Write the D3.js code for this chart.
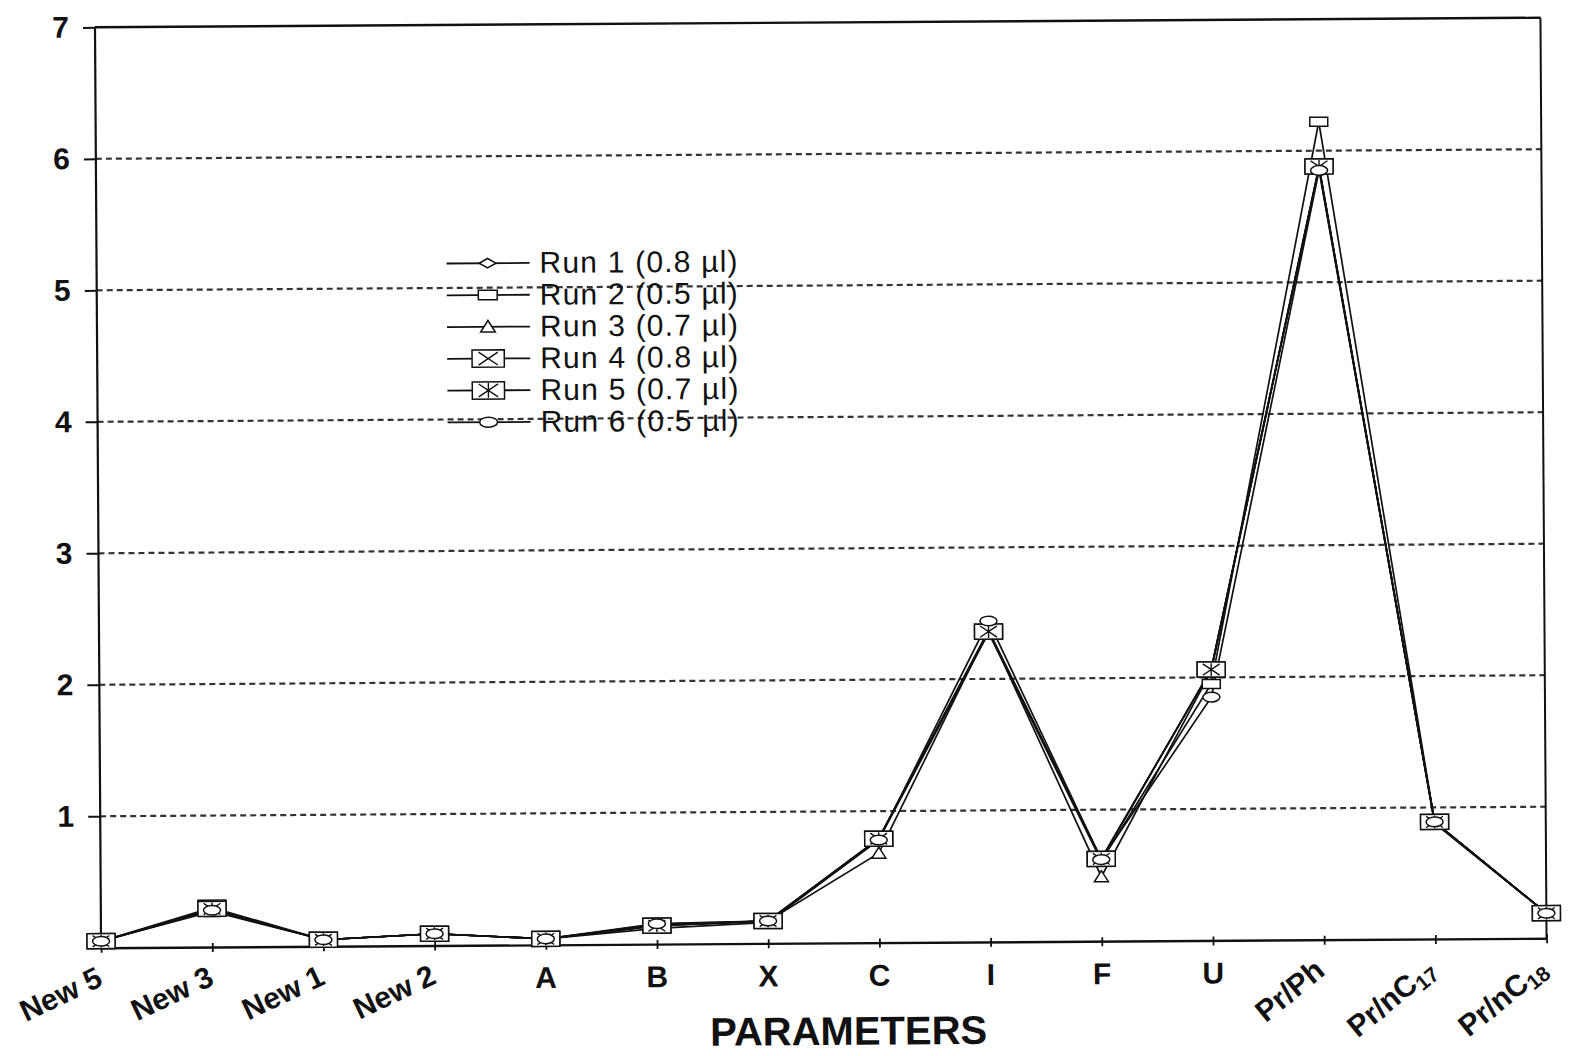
<!DOCTYPE html>
<html>
<head>
<meta charset="utf-8">
<script src="https://cdn.jsdelivr.net/npm/d3@7"></script>
<style>
  body { margin: 0; background: #fff; }
  svg { display: block; }
  text { font-family: "Liberation Sans", Arial, sans-serif; fill: #111; }
</style>
</head>
<body>
<svg id="chart" width="1572" height="1056"></svg>
<script>
// Parameters along the x axis
const categories = ["New 5", "New 3", "New 1", "New 2", "A", "B", "X", "C", "I", "F", "U", "Pr/Ph", "Pr/nC17", "Pr/nC18"];

// Values per run, one per parameter
const run1 = [0.05, 0.28, 0.05, 0.09, 0.045, 0.15, 0.17, 0.79, 2.37, 0.62, 2.06, 5.87, 0.89, 0.19];
const run2 = [0.05, 0.28, 0.05, 0.09, 0.045, 0.12, 0.16, 0.78, 2.35, 0.61, 1.95, 6.22, 0.89, 0.19];
const run3 = [0.05, 0.27, 0.05, 0.09, 0.045, 0.14, 0.17, 0.68, 2.37, 0.49, 2.05, 5.87, 0.88, 0.19];
const run4 = [0.05, 0.30, 0.05, 0.09, 0.045, 0.14, 0.17, 0.79, 2.36, 0.625, 2.06, 5.88, 0.89, 0.19];
const run5 = [0.05, 0.29, 0.05, 0.09, 0.045, 0.14, 0.17, 0.79, 2.36, 0.625, 2.06, 5.88, 0.89, 0.19];
const run6 = [0.05, 0.28, 0.05, 0.09, 0.045, 0.155, 0.17, 0.78, 2.44, 0.62, 1.85, 5.85, 0.89, 0.19];

const seriesNames = ["Run 1 (0.8 µl)", "Run 2 (0.5 µl)", "Run 3 (0.7 µl)", "Run 4 (0.8 µl)", "Run 5 (0.7 µl)", "Run 6 (0.5 µl)"];
const markerTypes = ["diamond", "rect", "triangle", "boxX", "boxStar", "ellipse"];
const yTicks = [1, 2, 3, 4, 5, 6, 7];
const gridValues = [1, 2, 3, 4, 5, 6];
const xTitle = "PARAMETERS";

const seriesValues = [run1, run2, run3, run4, run5, run6];

const svg = d3.select("#chart");
const ink = "#111";

// Plot frame
const plotLeft = 98, plotRight = 1543.5, plotTop = 22.5, plotBottom = 943;
const x = d3.scalePoint().domain(categories).range([plotLeft, plotRight]);
const y = d3.scaleLinear().domain([0, 7]).range([plotBottom, plotTop]);

// The whole sheet sits slightly askew
const root = svg.append("g").attr("transform", "rotate(-0.38, 820.75, 480.4)");

// Dashed gridlines
root.append("g").selectAll("line").data(gridValues).join("line")
  .attr("x1", plotLeft).attr("x2", plotRight)
  .attr("y1", d => y(d)).attr("y2", d => y(d))
  .attr("stroke", "#333").attr("stroke-width", 2.2)
  .attr("stroke-dasharray", "6,4");

// Top and right border
root.append("line").attr("x1", plotLeft).attr("x2", plotRight).attr("y1", plotTop).attr("y2", plotTop)
  .attr("stroke", ink).attr("stroke-width", 2.4);
root.append("line").attr("x1", plotRight).attr("x2", plotRight).attr("y1", plotTop).attr("y2", plotBottom)
  .attr("stroke", ink).attr("stroke-width", 2);

// Y axis
const yAxis = root.append("g").attr("transform", `translate(${plotLeft},0)`)
  .call(d3.axisLeft(y).tickValues(yTicks).tickSize(12).tickPadding(14).tickFormat(d3.format("d")));
yAxis.select(".domain").attr("stroke", ink).attr("stroke-width", 2.2).attr("d", `M0,${plotTop}V${plotBottom}`);
yAxis.selectAll(".tick line").attr("stroke", ink).attr("stroke-width", 2);
yAxis.selectAll(".tick text")
  .attr("font-size", 30).attr("font-weight", "bold").attr("fill", ink)
  .attr("font-family", "'Liberation Sans', Arial, sans-serif");

// X axis with small crossing ticks
const xAxis = root.append("g").attr("transform", `translate(0,${plotBottom})`)
  .call(d3.axisBottom(x).tickSize(0).tickFormat(""));
xAxis.select(".domain").attr("stroke", ink).attr("stroke-width", 2.4);
xAxis.selectAll(".tick").append("line")
  .attr("y1", -4).attr("y2", 5).attr("stroke", ink).attr("stroke-width", 1.8);

// X tick labels: single letters upright, longer names slanted
const labelG = root.append("g");
categories.forEach(c => {
  const cx = x(c);
  if (c.length === 1) {
    labelG.append("text").attr("x", cx).attr("y", plotBottom + 43)
      .attr("text-anchor", "middle").attr("font-size", 30).attr("font-weight", "bold").text(c);
  } else {
    const isRatio = c.startsWith("Pr");
    const slant = isRatio ? -39 : -25;
    const t = labelG.append("text")
      .attr("transform", isRatio
        ? `translate(${cx + 2},${plotBottom + 34}) rotate(${slant})`
        : `translate(${cx + 3},${plotBottom + 37}) rotate(${slant})`)
      .attr("text-anchor", "end").attr("font-size", 30).attr("font-weight", "bold");
    const m = c.match(/^(.*C)(\d+)$/);
    if (m) {
      t.append("tspan").text(m[1]);
      t.append("tspan").attr("font-size", 21).attr("dy", 5).text(m[2]);
    } else {
      t.text(c);
    }
  }
});

// Axis title
root.append("text").attr("x", 845).attr("y", 1045).attr("text-anchor", "middle")
  .attr("font-size", 40).attr("font-weight", "bold").text(xTitle);

// Marker drawing
function drawMarker(g, type, scale) {
  const s = scale || 1;
  const common = sel => sel.attr("fill", "#fff").attr("stroke", ink).attr("stroke-width", 1.5);
  if (type === "diamond") {
    common(g.append("path").attr("d", `M${-8*s},0L0,${-4.5*s}L${8*s},0L0,${4.5*s}Z`));
  } else if (type === "rect") {
    common(g.append("rect").attr("x", -9*s).attr("y", -4.5*s).attr("width", 18*s).attr("height", 9*s));
  } else if (type === "triangle") {
    common(g.append("path").attr("d", `M0,${-6*s}L${7*s},${5*s}L${-7*s},${5*s}Z`));
  } else if (type === "boxX" || type === "boxStar") {
    const w = 14*s, h = 7.5*s;
    common(g.append("rect").attr("x", -w).attr("y", -h).attr("width", 2*w).attr("height", 2*h));
    const p = d3.path();
    p.moveTo(-w*0.6, -h*0.75); p.lineTo(w*0.6, h*0.75);
    p.moveTo(-w*0.6, h*0.75); p.lineTo(w*0.6, -h*0.75);
    if (type === "boxStar") { p.moveTo(0, -h*0.85); p.lineTo(0, h*0.85); }
    g.append("path").attr("d", p.toString()).attr("fill", "none").attr("stroke", ink).attr("stroke-width", 1.4);
  } else if (type === "ellipse") {
    common(g.append("ellipse").attr("rx", 8.5*s).attr("ry", 4.8*s));
  }
}

// Series lines
const line = d3.line().x((d, i) => x(categories[i])).y(d => y(d));
root.append("g").selectAll("path").data(seriesValues).join("path")
  .attr("d", line).attr("fill", "none").attr("stroke", ink).attr("stroke-width", 1.7);

// Series markers
seriesValues.forEach((vals, si) => {
  const g = root.append("g");
  vals.forEach((v, i) => {
    const mg = g.append("g").attr("transform", `translate(${x(categories[i])},${y(v)})`);
    drawMarker(mg, markerTypes[si], 1);
  });
});

// Legend (no frame)
const legend = root.append("g");
seriesNames.forEach((name, i) => {
  const ly = 261 + i * 31.8;
  const row = legend.append("g").attr("transform", `translate(0,${ly})`);
  row.append("line").attr("x1", 448).attr("x2", 531).attr("y1", 0).attr("y2", 0)
    .attr("stroke", ink).attr("stroke-width", 1.8);
  const mg = row.append("g").attr("transform", "translate(489,0)");
  drawMarker(mg, markerTypes[i], i === 3 || i === 4 ? 1.15 : 1.05);
  row.append("text").attr("x", 541).attr("y", 10).attr("font-size", 30)
    .attr("letter-spacing", 1.2).text(name);
});
</script>
</body>
</html>
